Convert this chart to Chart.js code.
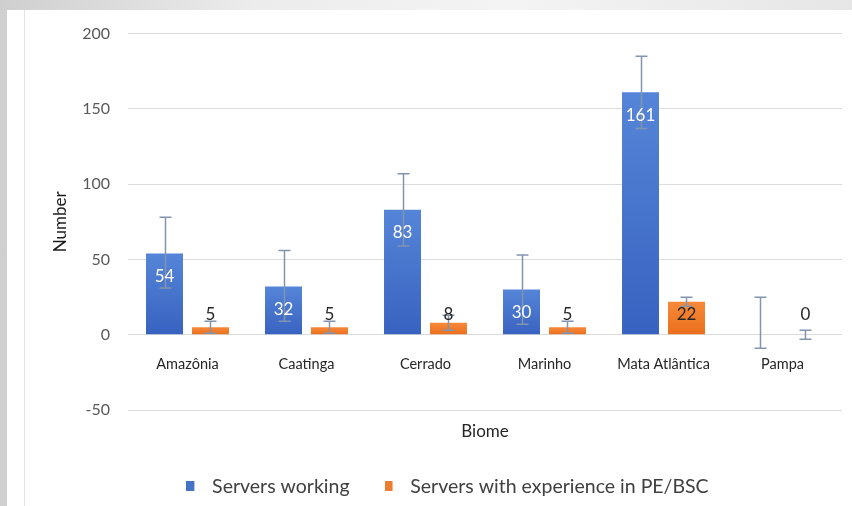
<!DOCTYPE html>
<html>
<head>
<meta charset="utf-8">
<script src="https://cdn.jsdelivr.net/npm/chart.js@4.4.0/dist/chart.umd.min.js"></script>
<style>
  html, body { margin: 0; padding: 0; overflow: hidden; }
  body {
    width: 852px; height: 506px; position: relative;
    background: linear-gradient(90deg, #cfcfcf 0%, #ececec 30%, #f4f4f4 60%, #e6e6e6 100%);
  }
  #panel {
    position: absolute; left: 7px; top: 10px; width: 845px; height: 496px;
    background: #ffffff;
  }
  #edge {
    position: absolute; left: 17px; top: 0; width: 1px; height: 100%;
    background: #e4e4e4;
  }
  #wrap { position: absolute; left: 0; top: -4px; width: 845px; height: 500px; }
</style>
</head>
<body>
<div id="panel">
  <div id="edge"></div>
  <div id="wrap"><canvas id="chart"></canvas></div>
</div>
<script>
const biomes = ['Amazônia', 'Caatinga', 'Cerrado', 'Marinho', 'Mata Atlântica', 'Pampa'];
const serversWorking = [54, 32, 83, 30, 161, 0];
const serversExperience = [5, 5, 8, 5, 22, 0];
const workingErrUp = [24, 24, 24, 23, 24, 25];
const workingErrDown = [23, 23, 24, 23, 24, 9];
const experienceErrUp = [4, 4, 5, 4, 3, 3];
const experienceErrDown = [4, 4, 5, 4, 3, 3];
const yTicks = [-50, 0, 50, 100, 150, 200];

const FONT = 'Lato, "Open Sans", sans-serif';

// bar fill with a light top / darker bottom like the original
function barGradient(light, dark) {
    return function (context) {
        const chart = context.chart;
        const y = chart.scales.y;
        if (!y || context.type !== 'data') return dark;
        const v = context.raw || 0;
        const top = y.getPixelForValue(v);
        const base = y.getPixelForValue(0);
        if (!isFinite(top) || !isFinite(base) || Math.abs(base - top) < 1) return dark;
        const g = chart.ctx.createLinearGradient(0, top, 0, base);
        g.addColorStop(0, light);
        g.addColorStop(1, dark);
        return g;
    };
}

// legend square: small box on the left of a wider transparent image
function legendSwatch(color) {
    const c = document.createElement('canvas');
    c.width = 16;
    c.height = 10;
    const cx = c.getContext('2d');
    cx.fillStyle = color;
    cx.fillRect(0, 0, 8, 10);
    return c;
}

const errorBars = {
    id: 'errorBars',
    afterDatasetsDraw(chart) {
        const ctx = chart.ctx;
        const y = chart.scales.y;
        const sets = [[workingErrUp, workingErrDown], [experienceErrUp, experienceErrDown]];
        ctx.save();
        ctx.strokeStyle = '#8294ae';
        ctx.lineWidth = 1.5;
        chart.data.datasets.forEach((ds, di) => {
            const meta = chart.getDatasetMeta(di);
            meta.data.forEach((bar, i) => {
                const v = ds.data[i];
                const yTop = y.getPixelForValue(v + sets[di][0][i]);
                const yBot = y.getPixelForValue(v - sets[di][1][i]);
                const x = Math.round(bar.x) + 0.5;
                ctx.beginPath();
                ctx.moveTo(x, yTop);
                ctx.lineTo(x, yBot);
                ctx.moveTo(x - 6, yTop);
                ctx.lineTo(x + 6, yTop);
                ctx.moveTo(x - 6, yBot);
                ctx.lineTo(x + 6, yBot);
                ctx.stroke();
            });
        });
        ctx.restore();
    }
};

const barLabels = {
    id: 'barLabels',
    afterDatasetsDraw(chart) {
        const ctx = chart.ctx;
        const zero = chart.scales.y.getPixelForValue(0);
        ctx.save();
        ctx.font = '17px ' + FONT;
        ctx.textAlign = 'center';
        ctx.textBaseline = 'middle';
        chart.data.datasets.forEach((ds, di) => {
            const meta = chart.getDatasetMeta(di);
            meta.data.forEach((bar, i) => {
                const v = ds.data[i];
                if (di === 0) {
                    if (!v) return;
                    ctx.fillStyle = '#ffffff';
                    ctx.fillText(String(v), bar.x, bar.y + 23);
                } else {
                    ctx.fillStyle = '#262626';
                    ctx.fillText(String(v), bar.x, Math.min(bar.y + 13, zero - 20));
                }
            });
        });
        ctx.restore();
    }
};

new Chart(document.getElementById('chart'), {
    type: 'bar',
    data: {
        labels: biomes,
        datasets: [{
            label: 'Servers working',
            data: serversWorking,
            backgroundColor: barGradient('#5585d8', '#3862c0'),
            pointStyle: legendSwatch('#4472c4'),
            categoryPercentage: 0.773,
            barPercentage: 0.804,
            xAxisID: 'x'
        }, {
            label: 'Servers with experience in PE/BSC',
            data: serversExperience,
            backgroundColor: barGradient('#f7893a', '#ea6f1c'),
            pointStyle: legendSwatch('#ed7d31'),
            categoryPercentage: 0.773,
            barPercentage: 0.804,
            xAxisID: 'x'
        }]
    },
    options: {
        responsive: true,
        maintainAspectRatio: false,
        animation: false,
        layout: { padding: { top: 0, right: 10, left: 46, bottom: 0 } },
        scales: {
            x: {
                type: 'category',
                position: { y: 0 },
                grid: { display: false },
                border: { display: false },
                ticks: { color: '#262626', font: { family: FONT, size: 14.5 }, padding: 13 }
            },
            x2: {
                type: 'category',
                position: 'bottom',
                labels: biomes,
                grid: { display: false },
                border: { display: false },
                ticks: { display: false },
                title: {
                    display: true,
                    text: 'Biome',
                    color: '#262626',
                    font: { family: FONT, size: 17 },
                    padding: { top: 3, bottom: 0 }
                }
            },
            y: {
                min: -50,
                max: 200,
                afterFit(scale) { scale.width = 75; },
                afterBuildTicks(scale) { scale.ticks = yTicks.map(v => ({ value: v })); },
                grid: { color: '#dcdcdc', lineWidth: 1, drawTicks: false },
                border: { display: false },
                ticks: { color: '#595959', font: { family: FONT, size: 16 }, padding: 18 },
                title: {
                    display: true,
                    text: 'Number',
                    color: '#1a1a1a',
                    font: { family: FONT, size: 17 },
                    padding: { top: -3, bottom: 0 }
                }
            }
        },
        plugins: {
            legend: {
                position: 'bottom',
                labels: {
                    usePointStyle: true,
                    pointStyleWidth: 16,
                    boxHeight: 10,
                    padding: 35,
                    color: '#404040',
                    font: { family: FONT, size: 19.5 }
                }
            },
            tooltip: { enabled: false }
        }
    },
    plugins: [errorBars, barLabels]
});
</script>
</body>
</html>
